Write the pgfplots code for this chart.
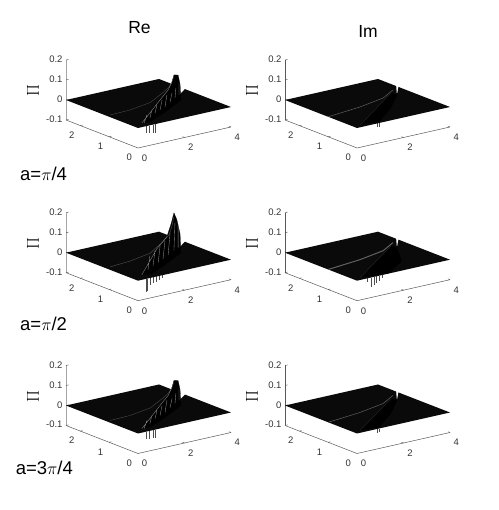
\documentclass[border=0pt]{standalone}
\usepackage{fontspec}
\setmainfont{Liberation Sans}
\usepackage{pgfplots}
\usepackage{pgfplotstable}
\pgfplotsset{compat=1.18}

% outline of the z=0 sheet, with the cut along the resonance
\pgfplotstableread{
x y z
0 0 0
4 0 0
4 1.60 0
3.23 1.25 0
4 1.95 0
4 2.5 0
0 2.5 0
}\PlaneRe
\pgfplotstableread{
x y z
0 0 0
4 0 0
4 1.79 0
3.40 1.36 0
4 1.87 0
4 2.5 0
0 2.5 0
}\PlaneIm

% raised wedge, a=pi/4
\pgfplotstableread{
x y z
0.34 0.14 0.008
1.02 0.41 0.025
1.88 0.75 0.049
2.56 1.02 0.066
2.90 1.16 0.089
3.07 1.23 0.116
3.41 1.36 0.099
3.58 1.43 0.046
3.67 1.47 -0.038
2.30 0.92 -0.032
1.02 0.41 -0.020
}\WedgeReA
% a=pi/2
\pgfplotstableread{
x y z
0.34 0.14 0.013
1.62 0.65 0.081
2.47 0.99 0.100
2.81 1.12 0.148
3.07 1.23 0.190
3.32 1.33 0.143
3.58 1.43 0.061
3.67 1.47 -0.038
2.30 0.92 -0.032
1.02 0.41 -0.020
}\WedgeReB
\pgfplotstableread{
x y z
0.29 0.13 0
3.37 1.54 0
3.40 1.36 0
2.32 0.70 0
1.02 0.06 0
}\WedgeImA
\pgfplotstableread{
x y z
0.29 0.13 0
3.37 1.54 0
3.40 1.36 0
2.60 0.55 0
1.40 0.02 0
}\WedgeImB

% ridge line
\pgfplotstableread{
x y z
0.15 1.09 0
1.04 1.12 0
2.08 1.26 0.002
3.13 1.66 0.002
3.50 1.75 0.015
3.75 1.85 0.028
3.95 1.95 0.042
}\RidgeReA
\pgfplotstableread{
x y z
0.15 1.09 0.004
1.04 1.12 0.008
2.08 1.26 0.012
3.13 1.66 0.020
3.50 1.75 0.040
3.75 1.85 0.070
3.95 1.95 0.105
}\RidgeReB
\pgfplotstableread{
x y z
0.00 1.00 0
1.55 1.15 0
2.81 1.36 0
3.64 1.69 0
}\RidgeIm

% hatching over the wedge
\pgfplotstableread{
x y z
0.77 0.31 0.028
0.51 0.20 0
nan nan nan
1.19 0.48 0.032
1.02 0.41 0
nan nan nan
1.62 0.65 0.036
1.45 0.58 0.004
nan nan nan
2.05 0.82 0.040
1.88 0.75 0
nan nan nan
2.47 0.99 0.045
2.30 0.92 -0.007
nan nan nan
2.90 1.16 0.034
2.73 1.09 -0.003
nan nan nan
3.24 1.30 0.043
3.15 1.26 -0.004
nan nan nan
3.50 1.40 0.055
3.50 1.40 -0.005
nan nan nan
0.34 0.14 0.008
1.02 0.41 0.025
1.88 0.75 0.049
2.56 1.02 0.066
2.90 1.16 0.089
}\HatchReA
\pgfplotstableread{
x y z
1.02 0.41 0.075
0.85 0.34 0.013
nan nan nan
1.45 0.58 0.080
1.28 0.51 0.013
nan nan nan
1.88 0.75 0.084
1.71 0.68 0.007
nan nan nan
2.30 0.92 0.088
2.13 0.85 0.006
nan nan nan
2.73 1.09 0.108
2.56 1.02 0.005
nan nan nan
3.15 1.26 0.137
3.07 1.23 0
nan nan nan
3.41 1.36 0.114
3.41 1.36 0
nan nan nan
0.34 0.14 0.013
1.62 0.65 0.081
2.47 0.99 0.100
}\HatchReB
\pgfplotstableread{
x y z
0.29 0.13 0
3.37 1.54 0
}\HatchIm

% spikes below the front edge
\pgfplotstableread{
x y z
0.37 0 0
0.37 0 -0.035
nan nan nan
0.47 0 0
0.47 0 -0.038
nan nan nan
0.66 0 0
0.66 0 -0.042
nan nan nan
0.76 0 0
0.76 0 -0.044
}\SpikeReA
\pgfplotstableread{
x y z
0.37 0 0
0.37 0 -0.065
nan nan nan
0.41 0 0
0.41 0 -0.060
nan nan nan
0.52 0 0
0.52 0 -0.035
nan nan nan
0.66 0 0
0.66 0 -0.030
nan nan nan
0.80 0 0
0.80 0 -0.026
nan nan nan
0.92 0 0
0.92 0 -0.020
nan nan nan
1.03 0 0
1.03 0 -0.015
}\SpikeReB
\pgfplotstableread{
x y z
0.86 0 0
0.86 0 -0.018
nan nan nan
0.95 0 0
0.95 0 -0.018
}\SpikeImA
\pgfplotstableread{
x y z
0.43 0 0
0.43 0 -0.020
nan nan nan
0.60 0 0
0.60 0 -0.046
nan nan nan
0.73 0 0
0.73 0 -0.039
nan nan nan
0.82 0 0
0.82 0 -0.031
nan nan nan
0.95 0 0
0.95 0 -0.025
nan nan nan
1.08 0 0
1.08 0 -0.013
}\SpikeImB

% short tick strokes, only on the three drawn edges
\pgfplotstableread{
x y z
2 0 -0.1
2 0.07 -0.1
nan nan nan
4 0 -0.1
4 0.07 -0.1
nan nan nan
0 1 -0.1
0.09 1 -0.1
nan nan nan
0 2 -0.1
0.09 2 -0.1
nan nan nan
0 2.5 -0.1
0.11 2.5 -0.1
nan nan nan
0 2.5 0
0.11 2.5 0
nan nan nan
0 2.5 0.1
0.11 2.5 0.1
nan nan nan
0 2.5 0.2
0.11 2.5 0.2
}\TickStrokes

\colorlet{sheet}{black!96}
\newcommand{\reStyle}{\def\zcol{black!35}\def\hatchcol{black!45}\def\ridgecol{black!72}\def\spikecol{black!70}}
\newcommand{\imStyle}{\def\zcol{black!65}\def\hatchcol{black!82}\def\ridgecol{black!62}\def\spikecol{black!70}}

% #1 #2 origin, #3 wedge, #4 ridge, #5 hatch, #6 spikes, #7 ridge width, #8 sheet
\newcommand{\panel}[8]{%
\begin{axis}[
  at={(#1pt,#2pt)}, anchor=origin,
  x={(23.25pt,5.25pt)}, y={(-28.8pt,11.2pt)}, z={(0pt,200pt)},
  xmin=0, xmax=4, ymin=0, ymax=2.5, zmin=-0.1, zmax=0.2,
  clip=false,
  axis line style={draw=none},
  xtick={0,2,4}, ytick={0,1,2}, ztick={-0.1,0,0.1,0.2},
  xtick pos=left, ytick pos=left, ztick pos=left,
  major tick length=0pt,
  tick style={draw=none},
  /pgf/number format/assume math mode=true,
  tick label style={font=\fontsize{9.5}{10}\selectfont, text=black!80},
  xticklabel style={xshift=1.5pt, yshift=-3pt},
  yticklabel style={xshift=-3pt, yshift=-2.5pt},
  zlabel={$\Pi$},
  every axis z label/.style={at={(axis cs:0,2.5,0.045)}, xshift=-33pt, rotate=90, anchor=center, font=\fontsize{16}{16}\selectfont},
  unbounded coords=jump,
]
\addplot3[black!65, line width=0.5pt] coordinates {(0,2.5,-0.1) (0,0,-0.1) (4,0,-0.1)};
\addplot3[\zcol, line width=0.5pt] coordinates {(0,2.5,-0.1) (0,2.5,0.2)};
\addplot3[black!70, line width=0.4pt] table[x=x,y=y,z=z] {\TickStrokes};
\addplot3[\spikecol, line width=0.5pt] table[x=x,y=y,z=z] {#6};
\addplot3[fill=sheet, draw=none] table[x=x,y=y,z=z] {#8};
\addplot3[fill=black, draw=black, line width=0.2pt] table[x=x,y=y,z=z] {#3};
\addplot3[\ridgecol, line width=#7] table[x=x,y=y,z=z] {#4};
\addplot3[\hatchcol, line width=0.35pt] table[x=x,y=y,z=z] {#5};
\end{axis}}

\begin{document}
\begin{tikzpicture}[x=1pt,y=1pt]
\path[use as bounding box] (0,0) rectangle (498,510);

\reStyle
\panel{138}{382}{\WedgeReA}{\RidgeReA}{\HatchReA}{\SpikeReA}{0.4pt}{\PlaneRe}
\panel{138}{229.3}{\WedgeReB}{\RidgeReB}{\HatchReB}{\SpikeReB}{0.5pt}{\PlaneRe}
\panel{138}{76.5}{\WedgeReA}{\RidgeReA}{\HatchReA}{\SpikeReA}{0.4pt}{\PlaneRe}
\imStyle
\panel{357}{382}{\WedgeImA}{\RidgeIm}{\HatchIm}{\SpikeImA}{0.5pt}{\PlaneIm}
\panel{357}{229.3}{\WedgeImB}{\RidgeIm}{\HatchIm}{\SpikeImB}{1pt}{\PlaneIm}
\panel{357}{76.5}{\WedgeImA}{\RidgeIm}{\HatchIm}{\SpikeImA}{0.5pt}{\PlaneIm}

\node[font=\fontsize{17.5}{18}\selectfont] at (139.5,482) {Re};
\node[font=\fontsize{17.5}{18}\selectfont] at (368,479) {Im};
\node[font=\fontsize{18.5}{19}\selectfont, anchor=west, inner sep=0pt] at (20,336) {a=$\pi$/4};
\node[font=\fontsize{18.5}{19}\selectfont, anchor=west, inner sep=0pt] at (20,186) {a=$\pi$/2};
\node[font=\fontsize{18.5}{19}\selectfont, anchor=west, inner sep=0pt] at (15.6,42) {a=3$\pi$/4};
\end{tikzpicture}
\end{document}
